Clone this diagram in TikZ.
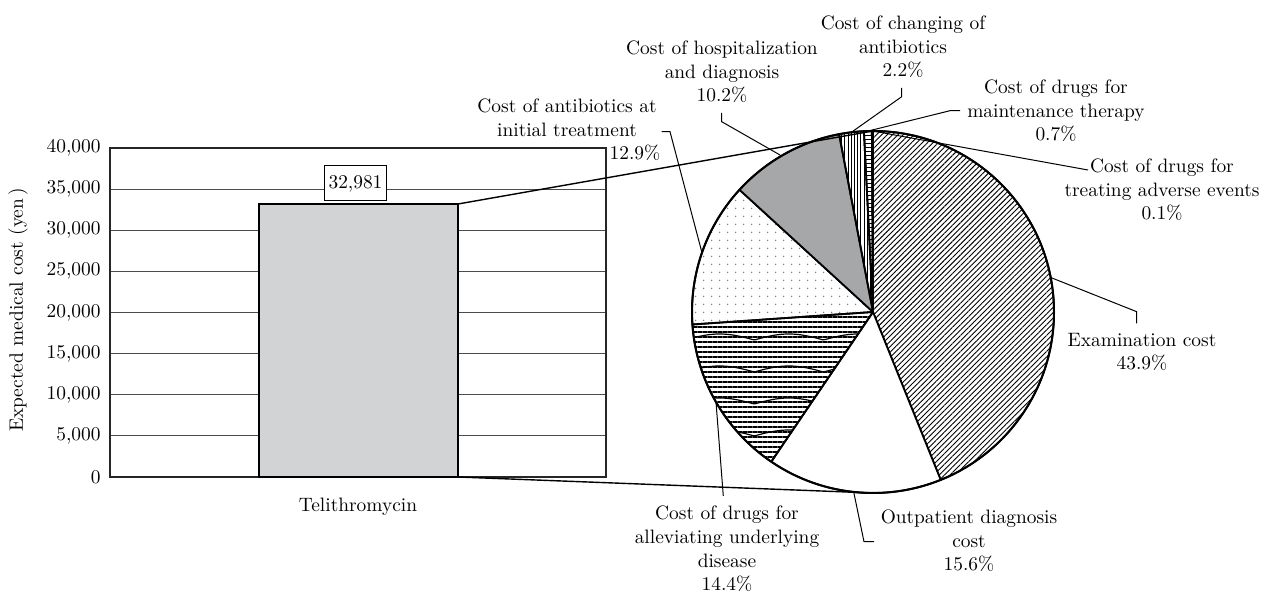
\documentclass[tikz,border=0pt]{standalone}
\usetikzlibrary{patterns.meta}
\definecolor{barfill}{RGB}{210,211,213}
\definecolor{hospfill}{RGB}{166,167,169}
\begin{document}
\begin{tikzpicture}[x=0.5pt,y=-0.5pt,
  lbl/.style={align=center,inner sep=0pt,font=\fontsize{9.7}{11.85}\selectfont},
  ylab/.style={anchor=east,inner sep=0pt,font=\fontsize{9.7}{11.85}\selectfont},
  gridline/.style={line width=0.55pt,draw=black!70},
  leader/.style={line width=0.5pt},
  connector/.style={line width=0.7pt},
  slice/.style={draw=black,line width=0.9pt,line join=round}]
\useasboundingbox (0,0) rectangle (1266,592);

% ---------------- bar chart ----------------
\foreach \v in {5,10,...,35}
  \draw[gridline] (110,{477-\v*8.225}) -- (606,{477-\v*8.225});
\draw[line width=0.6pt,draw=black!85] (110,148) rectangle (606,477);
\foreach \v/\t in {0/0,5/{5,000},10/{10,000},15/{15,000},20/{20,000},25/{25,000},30/{30,000},35/{35,000},40/{40,000}}
  \node[ylab] (yl\v) at (101,{477-\v*8.225}) {\t};
\node[lbl,rotate=90] (ytitle) at (18,310) {Expected medical cost\,\,(yen\,)};
\node[draw,fill=barfill,line width=0.6pt,outer sep=0pt,inner sep=0pt,
      minimum width=99.5pt,minimum height=136.5pt,anchor=south west] (bar) at (259,477) {};
\node[draw,fill=white,line width=0.5pt,inner xsep=2pt,inner ysep=0pt,minimum height=17.5pt,
      font=\fontsize{9.7}{11.85}\selectfont] (val) at (355.5,183.5) {32,981};
\node[lbl] (xcat) at (358,507) {Telithromycin};

% ---------------- pie chart ----------------
\coordinate (pc) at (873,312);
\coordinate (pietop) at (873,131);
\coordinate (piebot) at (873,493);

\path[slice,pattern={Lines[angle=45,distance=1.9pt,line width=0.45pt]}]
  (pc) -- +(-90:181) arc[start angle=-90,end angle=68.04,radius=181] -- cycle;
\path[slice,fill=white]
  (pc) -- +(68.04:181) arc[start angle=68.04,end angle=124.2,radius=181] -- cycle;
\path[slice,pattern={Lines[angle=0,distance=2.5pt,line width=0.6pt]}]
  (pc) -- +(124.2:181) arc[start angle=124.2,end angle=176.04,radius=181] -- cycle;
\begin{scope}
  \clip (pc) -- +(124.2:181) arc[start angle=124.2,end angle=176.04,radius=181] -- cycle;
  \foreach \yy in {340,372,404,436,468,500}
    \draw[line width=0.6pt] plot[domain=685:880,samples=90,smooth] (\x,{\yy-6*abs(sin((\x-685)*2.6))});
\end{scope}
\path[slice,pattern={Dots[distance=4pt,radius=0.45pt]},pattern color=black!50]
  (pc) -- +(176.04:181) arc[start angle=176.04,end angle=222.48,radius=181] -- cycle;
\path[slice,fill=hospfill]
  (pc) -- +(222.48:181) arc[start angle=222.48,end angle=259.2,radius=181] -- cycle;
\path[slice,pattern={Lines[angle=90,distance=1.6pt,line width=0.45pt]}]
  (pc) -- +(259.2:181) arc[start angle=259.2,end angle=267.12,radius=181] -- cycle;
\path[slice,pattern={Lines[angle=0,distance=2pt,line width=0.5pt]}]
  (pc) -- +(267.12:181) arc[start angle=267.12,end angle=269.64,radius=181] -- cycle;
\path[slice,fill=white]
  (pc) -- +(269.64:181) arc[start angle=269.64,end angle=270,radius=181] -- cycle;
\draw[line width=1pt] (pc) circle[radius=181];

% ---------------- connectors bar -> pie ----------------
\draw[connector] (bar.north east) -- (pietop);
\draw[connector] (bar.south east) -- (piebot);

% ---------------- labels ----------------
\node[lbl] (labAnti) at (567,118) {Cost of antibiotics at\\initial treatment};
\node[lbl] (pctAnti) at (635,153) {12.9\%};
\node[lbl] (labHosp) at (722,72) {Cost of hospitalization\\and diagnosis\\10.2\%};
\node[lbl] (labChg) at (903,47) {Cost of changing of\\antibiotics\\2.2\%};
\node[lbl] (labMaint) at (1056,111) {Cost of drugs for\\maintenance therapy\\0.7\%};
\node[lbl] (labAdv) at (1162,190) {Cost of drugs for\\treating adverse events\\0.1\%};
\node[lbl] (labExam) at (1142,352) {Examination cost\\43.9\%};
\node[lbl] (labOut) at (969,541) {Outpatient diagnosis\\cost\\15.6\%};
\node[lbl] (labAllev) at (727,549) {Cost of drugs for\\alleviating underlying\\disease\\14.4\%};

% ---------------- leader lines ----------------
\coordinate (aA1) at (661.7,131.7); \coordinate (aA2) at (670,131.7); \coordinate (aAp) at (701.8,252);
\draw[leader] (aA1) -- (aA2) -- (aAp);
\coordinate (aH1) at (721.7,113); \coordinate (aH2) at (721.7,121.7); \coordinate (aHp) at (780,155);
\draw[leader] (aH1) -- (aH2) -- (aHp);
\coordinate (aC1) at (901.7,88); \coordinate (aC2) at (901.7,96.7); \coordinate (aCp) at (851.4,132.3);
\draw[leader] (aC1) -- (aC2) -- (aCp);
\coordinate (aM1) at (960,110.7); \coordinate (aM2) at (950,110.7); \coordinate (aMp) at (867.9,131.1);
\draw[leader] (aM1) -- (aM2) -- (aMp);
\coordinate (aD1) at (1088,170); \coordinate (aDp) at (872.6,131);
\draw[leader] (aD1) -- (aDp);
\coordinate (aE1) at (1136.7,323.3); \coordinate (aE2) at (1136.7,311.7); \coordinate (aEp) at (1050.7,277.5);
\draw[leader] (aE1) -- (aE2) -- (aEp);
\coordinate (aO1) at (874,541.7); \coordinate (aO2) at (864,541.7); \coordinate (aOp) at (853.7,492);
\draw[leader] (aO1) -- (aO2) -- (aOp);
\coordinate (aL1) at (723.3,496); \coordinate (aLp) at (716,402);
\draw[leader] (aL1) -- (aLp);
\end{tikzpicture}
\end{document}
